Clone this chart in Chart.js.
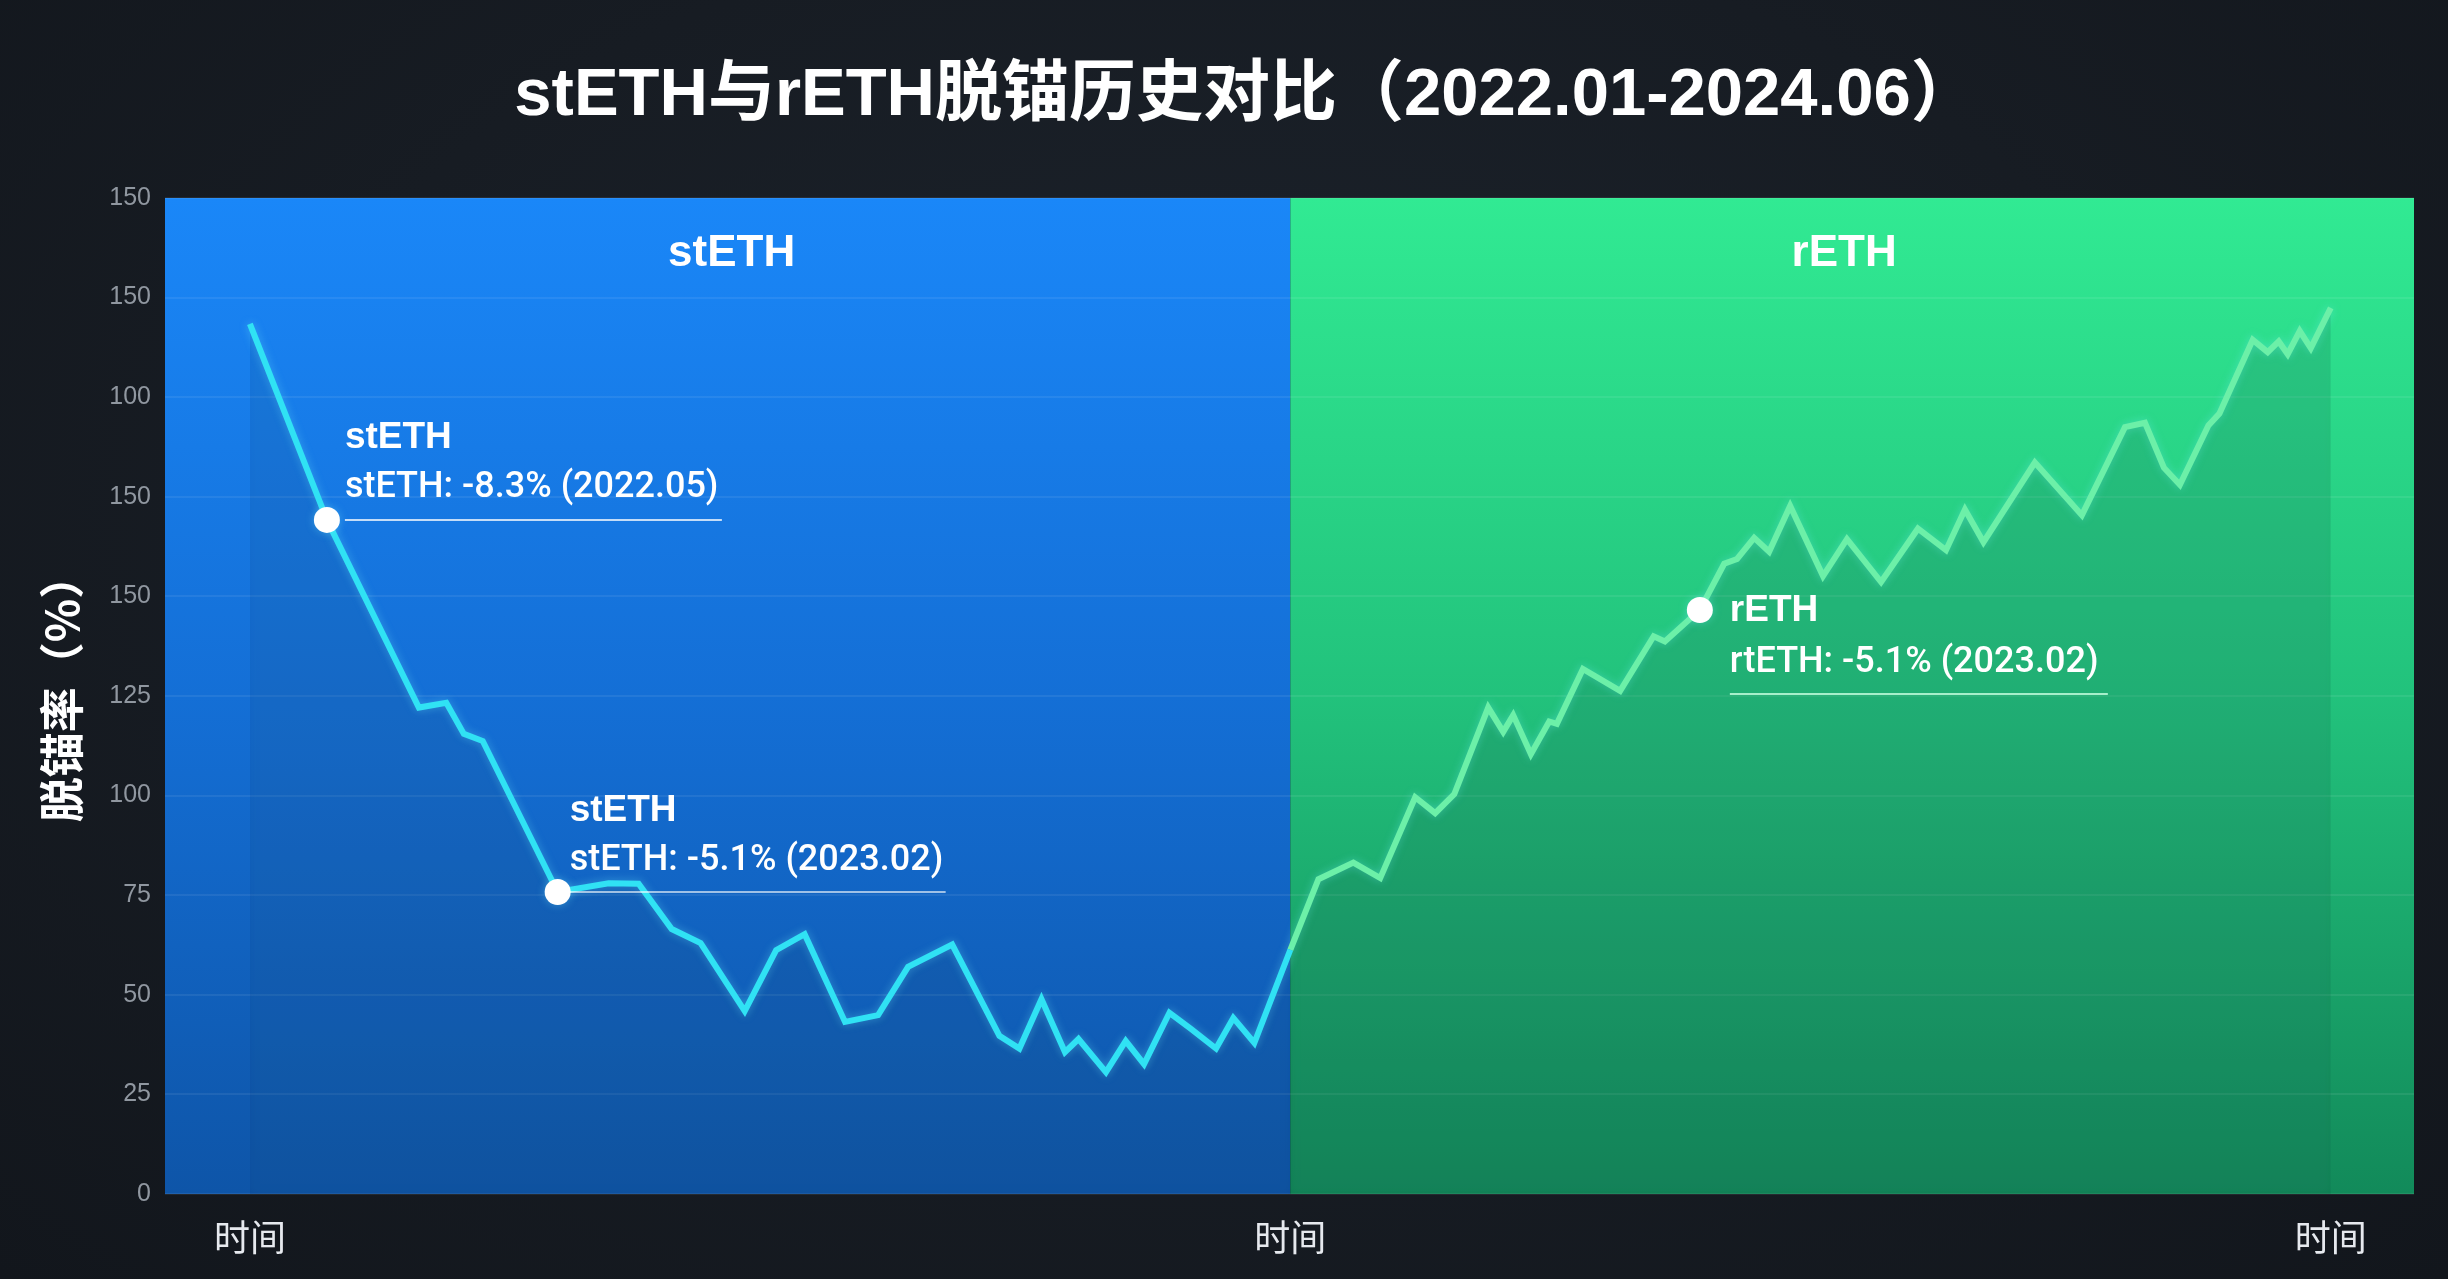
<!DOCTYPE html>
<html>
<head>
<meta charset="utf-8">
<script src="https://cdn.jsdelivr.net/npm/chart.js@4.4.1/dist/chart.umd.min.js"></script>
<style>
  html, body { margin: 0; padding: 0; }
  body {
    width: 2448px; height: 1279px; overflow: hidden;
    background: radial-gradient(ellipse at 50% 40%, #1c232c 0%, #171c23 55%, #12161c 100%);
  }
  #wrap { position: relative; width: 2448px; height: 1279px; }
</style>
</head>
<body>
<div id="wrap"><canvas id="chart"></canvas></div>
<script>
// stETH depeg path (x = time position 0..100, y = chart units)
const stethX = [0, 3.70, 8.12, 9.44, 10.28, 11.19, 14.79, 17.24, 18.68, 20.27, 21.66, 23.78, 25.29, 26.66, 28.60,
  30.19, 31.63, 33.75, 36.02, 36.98, 38.04, 39.17, 39.82, 41.14, 42.09, 42.97, 44.19, 45.24, 46.43, 47.26, 48.27, 50.0];
const stethY = [218.4, 169.2, 122.1, 123.3, 115.5, 113.7, 75.8, 78, 77.9, 66.5, 63, 45.9, 61.2, 65.2, 43.2,
  44.9, 57, 62.6, 39.7, 36.5, 48.9, 35.6, 38.9, 30.6, 38.4, 32.6, 45.5, 41.4, 36.5, 44.2, 37.9, 61.3];

// rETH path
const rethX = [50.0, 51.35, 53.03, 54.32, 56.00, 56.96, 57.88, 59.51, 60.23, 60.71, 61.56, 62.44, 62.81, 64.06, 65.85,
  67.46, 68.00, 69.68, 70.85, 71.47, 72.29, 73.01, 74.02, 75.60, 76.75, 78.39, 80.16, 81.51, 82.42, 83.31, 85.78,
  88.04, 90.11, 91.07, 91.98, 92.75, 94.12, 94.65, 96.25, 96.97, 97.50, 97.93, 98.51, 99.04, 100];
const rethY = [61.3, 79, 83.2, 79.3, 99.6, 95.6, 100.4, 122.1, 116, 120.2, 110.4, 118.6, 118, 131.8, 126.3,
  140, 138.7, 146.6, 158.2, 159.4, 164.7, 161.2, 172.7, 155.1, 164.4, 153.6, 167, 161.6, 171.8, 163.6, 183.6,
  170.4, 192.5, 193.6, 182.3, 178, 192.9, 195.9, 214.4, 211.3, 214, 210.8, 216.6, 212.3, 222.4];

// highlighted points
const stethMarks = [1, 6];
const rethMarks = [17];
const stethNotes = [
  ['stETH', 'stETH: -8.3% (2022.05)'],
  ['stETH', 'stETH: -5.1% (2023.02)']
];
const rethNotes = [['rETH', 'rtETH: -5.1% (2023.02)']];

const yTickLabels = ['0', '25', '50', '75', '100', '125', '150', '150', '100', '150', '150'];
const xTickValues = [0, 50, 100];
const xTickLabel = '时间';
const splitAt = 50;
const panelNames = ['stETH', 'rETH'];
const chartTitle = 'stETH与rETH脱锚历史对比（2022.01-2024.06）';
const yTitle = '脱锚率（%）';

const FONT = "'Liberation Sans', 'Noto Sans CJK SC', sans-serif";
const NOTE = "Roboto, 'Liberation Sans', sans-serif";
const CJK = "'Noto Sans CJK SC', sans-serif";

function toPoints(xs, ys) {
  return xs.map((x, i) => ({ x: x, y: ys[i] }));
}

const panels = {
  id: 'panels',
  beforeDraw(chart) {
    const { ctx, chartArea: a, scales } = chart;
    const mid = scales.x.getPixelForValue(splitAt);
    ctx.save();
    let g = ctx.createLinearGradient(0, a.top, 0, a.bottom);
    g.addColorStop(0, '#1a87f8');
    g.addColorStop(0.5, '#146fd6');
    g.addColorStop(1, '#0e55a8');
    ctx.fillStyle = g;
    ctx.fillRect(a.left, a.top, mid - a.left, a.bottom - a.top);
    g = ctx.createLinearGradient(0, a.top, 0, a.bottom);
    g.addColorStop(0, '#31ea93');
    g.addColorStop(0.5, '#22c27c');
    g.addColorStop(1, '#128a5a');
    ctx.fillStyle = g;
    ctx.fillRect(mid, a.top, a.right - mid, a.bottom - a.top);
    ctx.restore();
  },
  beforeDatasetsDraw(chart) {
    chart.ctx.save();
    chart.ctx.shadowColor = 'rgba(120, 240, 255, 0.35)';
    chart.ctx.shadowBlur = 8;
  },
  afterDatasetsDraw(chart) {
    chart.ctx.restore();
  },
  afterDraw(chart) {
    const { ctx, chartArea: a, scales } = chart;
    const mid = scales.x.getPixelForValue(splitAt);
    ctx.save();
    ctx.fillStyle = '#ffffff';
    ctx.textAlign = 'center';
    ctx.textBaseline = 'middle';
    // main title
    ctx.font = 'bold 67px ' + FONT;
    ctx.fillText(chartTitle, 1246, 97);
    // panel titles
    ctx.font = 'bold 44px ' + FONT;
    ctx.fillText(panelNames[0], (a.left + mid) / 2 + 4, 254);
    ctx.fillText(panelNames[1], (mid + a.right) / 2 - 8, 254);
    // y axis title
    ctx.save();
    ctx.translate(62, 688);
    ctx.rotate(-Math.PI / 2);
    ctx.font = 'bold 45px ' + CJK;
    ctx.fillText(yTitle, 0, 0);
    ctx.restore();

    // notes
    ctx.textAlign = 'left';
    ctx.textBaseline = 'alphabetic';
    const note = (px, py, lines, dx, b1, b2, ul, ulLen, ulColor) => {
      ctx.fillStyle = '#ffffff';
      ctx.font = 'bold 37px ' + FONT;
      ctx.fillText(lines[0], px + dx, py + b1);
      ctx.font = '500 36px ' + NOTE;
      ctx.fillText(lines[1], px + dx, py + b2);
      ctx.strokeStyle = ulColor;
      ctx.lineWidth = 2;
      ctx.beginPath();
      ctx.moveTo(px + dx, py + ul);
      ctx.lineTo(px + dx + ulLen, py + ul);
      ctx.stroke();
    };
    const m0 = chart.getDatasetMeta(0).data;
    const m1 = chart.getDatasetMeta(1).data;
    const p1 = m0[stethMarks[0]], p2 = m0[stethMarks[1]], p3 = m1[rethMarks[0]];
    note(p1.x, p1.y, stethNotes[0], 18, -72, -23, 0, 377, 'rgba(255,255,255,0.75)');
    note(p2.x, p2.y, stethNotes[1], 12, -71, -22, 0, 376, 'rgba(255,255,255,0.6)');
    note(p3.x, p3.y, rethNotes[0], 30, 11, 62, 84, 378, 'rgba(200,255,225,0.8)');
    ctx.restore();
  }
};

const markRadius = (marks) => (c) => marks.includes(c.dataIndex) ? 13 : 0;

new Chart(document.getElementById('chart'), {
  type: 'line',
  data: {
    datasets: [
      {
        label: 'stETH',
        data: toPoints(stethX, stethY),
        borderColor: '#30e2f4',
        borderWidth: 6,
        fill: 'origin',
        backgroundColor: 'rgba(0, 25, 70, 0.12)',
        pointRadius: markRadius(stethMarks),
        pointBackgroundColor: '#ffffff',
        pointBorderWidth: 0,
        tension: 0
      },
      {
        label: 'rETH',
        data: toPoints(rethX, rethY),
        borderColor: '#6cf0a8',
        borderWidth: 6,
        fill: 'origin',
        backgroundColor: 'rgba(0, 60, 35, 0.16)',
        pointRadius: markRadius(rethMarks),
        pointBackgroundColor: '#ffffff',
        pointBorderWidth: 0,
        tension: 0
      }
    ]
  },
  options: {
    responsive: true,
    maintainAspectRatio: false,
    animation: false,
    layout: { padding: { top: 198, right: 34, bottom: 0, left: 0 } },
    plugins: { legend: { display: false }, tooltip: { enabled: false } },
    scales: {
      x: {
        type: 'linear',
        min: -4.08,
        max: 104.0,
        afterBuildTicks: (axis) => { axis.ticks = xTickValues.map(v => ({ value: v })); },
        afterFit: (s) => { s.height = 85; },
        grid: { display: false, drawTicks: false },
        border: { display: false },
        ticks: {
          autoSkip: false,
          maxRotation: 0,
          padding: 22,
          color: '#e6e9ee',
          font: { family: CJK, size: 36 },
          callback: () => xTickLabel
        }
      },
      y: {
        min: 0,
        max: 250,
        afterFit: (s) => { s.width = 165; },
        grid: { color: 'rgba(255,255,255,0.07)', lineWidth: 2, drawTicks: false },
        border: { display: false },
        ticks: {
          stepSize: 25,
          padding: 14,
          color: '#9097a0',
          font: { family: FONT, size: 25 },
          callback: (v, i) => yTickLabels[i]
        }
      }
    }
  },
  plugins: [panels]
});
</script>
</body>
</html>
